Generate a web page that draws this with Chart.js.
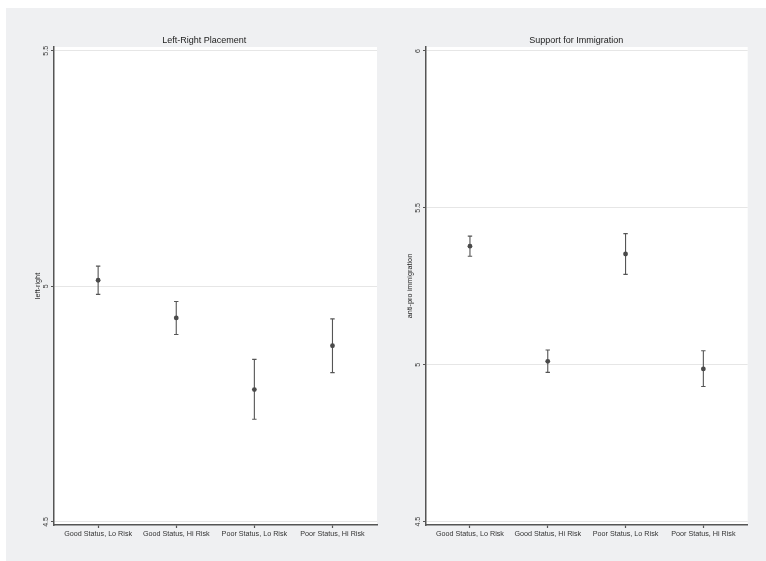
<!DOCTYPE html>
<html>
<head>
<meta charset="utf-8">
<script src="https://cdn.jsdelivr.net/npm/chart.js@4"></script>
<style>
  body { margin: 0; background: #fff; }
  #bg { position: absolute; left: 6px; top: 8px; width: 760px; height: 553px; background: #eff0f2; }
  canvas { position: absolute; top: 0; }
  #lr { left: 0; }
  #imm { left: 383px; }
</style>
</head>
<body>
<div id="bg"></div>
<canvas id="lr" width="383" height="561"></canvas>
<canvas id="imm" width="383" height="561"></canvas>
<script>
const categories = ['Good Status, Lo Risk', 'Good Status, Hi Risk', 'Poor Status, Lo Risk', 'Poor Status, Hi Risk'];

// left-right placement: mean and 95% interval
const lrMean = [5.013, 4.933, 4.781, 4.874];
const lrLow = [4.983, 4.898, 4.718, 4.817];
const lrHigh = [5.043, 4.968, 4.845, 4.931];
const lrTicks = [4.5, 5, 5.5];

// anti-pro immigration: mean and 95% interval
const immMean = [5.378, 5.011, 5.353, 4.987];
const immLow = [5.346, 4.976, 5.288, 4.931];
const immHigh = [5.410, 5.047, 5.418, 5.045];
const immTicks = [4.5, 5, 5.5, 6];

const xTicks = [1, 2, 3, 4];

const FONT = "'Liberation Sans', Arial, sans-serif";
const AXIS = '#555';

// white plot region
const plotBg = {
    id: 'plotBg',
    beforeDraw(chart) {
        const a = chart.chartArea;
        const ctx = chart.ctx;
        ctx.save();
        ctx.fillStyle = '#fff';
        ctx.fillRect(a.left, a.top, a.right - a.left, a.bottom - a.top);
        ctx.restore();
    }
};

// capped error bars from low/high arrays
const errorBars = {
    id: 'errorBars',
    beforeDatasetsDraw(chart, args, opts) {
        const ctx = chart.ctx;
        const xs = chart.scales.x, ys = chart.scales.y;
        ctx.save();
        ctx.strokeStyle = '#555';
        ctx.lineWidth = 1.1;
        for (let i = 0; i < opts.low.length; i++) {
            const x = xs.getPixelForValue(i + 1);
            const y1 = ys.getPixelForValue(opts.low[i]);
            const y2 = ys.getPixelForValue(opts.high[i]);
            ctx.beginPath();
            ctx.moveTo(x, y1); ctx.lineTo(x, y2);
            ctx.moveTo(x - 2.2, y1); ctx.lineTo(x + 2.2, y1);
            ctx.moveTo(x - 2.2, y2); ctx.lineTo(x + 2.2, y2);
            ctx.stroke();
        }
        ctx.restore();
    }
};

function panel(id, title, yTitle, mean, low, high, ticks, yMin, yMax, pad, yWidth, titlePad) {
    const data = {
        datasets: [{
            data: mean.map((v, i) => ({ x: xTicks[i], y: v })),
            pointRadius: 2.4,
            pointBackgroundColor: '#4a4a4a',
            pointBorderWidth: 0,
        }],
    };
    const config = {
        type: 'scatter',
        data: data,
        plugins: [plotBg, errorBars],
        options: {
            responsive: false,
            animation: false,
            layout: { padding: { left: pad.left, right: pad.right, top: 0, bottom: 0 } },
            plugins: {
                legend: { display: false },
                tooltip: { enabled: false },
                title: {
                    display: true,
                    text: title,
                    color: '#222',
                    font: { family: FONT, size: 9, weight: 'normal' },
                    padding: { top: 35.6, bottom: 0.6 },
                },
                errorBars: { low: low, high: high },
            },
            scales: {
                x: {
                    type: 'linear',
                    min: 0.435,
                    max: 4.57,
                    afterBuildTicks: s => { s.ticks = xTicks.map(v => ({ value: v })); },
                    afterFit: s => { s.height = 36; },
                    grid: { drawOnChartArea: false, tickLength: 3, tickColor: AXIS, tickWidth: 1.2 },
                    border: { color: AXIS, width: 1.5 },
                    ticks: {
                        color: '#333',
                        padding: 2,
                        maxRotation: 0,
                        font: { family: FONT, size: 7.2 },
                        callback: v => categories[v - 1],
                    },
                },
                y: {
                    min: yMin,
                    max: yMax,
                    afterBuildTicks: s => { s.ticks = ticks.map(v => ({ value: v })); },
                    afterFit: s => { s.width = yWidth; },
                    grid: { color: '#e6e6e6', lineWidth: 1, tickLength: 3, tickColor: AXIS, tickWidth: 1.2 },
                    border: { color: AXIS, width: 1.5 },
                    title: {
                        display: true,
                        text: yTitle,
                        color: '#222',
                        font: { family: FONT, size: 7.3 },
                        padding: { top: titlePad, bottom: 0 },
                    },
                    ticks: {
                        color: '#333',
                        padding: 0,
                        minRotation: 90,
                        maxRotation: 90,
                        crossAlign: 'center',
                        font: { family: FONT, size: 7 },
                        callback: v => String(v),
                    },
                },
            },
        },
    };
    const ctx = document.getElementById(id).getContext('2d');
    new Chart(ctx, config);
}

panel('lr', 'Left-Right Placement', 'left-right', lrMean, lrLow, lrHigh, lrTicks,
    4.4936, 5.508, { left: 31.6, right: 6 }, 22.4, 2);
panel('imm', 'Support for Immigration', 'anti-pro immigration', immMean, immLow, immHigh, immTicks,
    4.4895, 6.0127, { left: 21.9, right: 18.3 }, 21.1, 1.2);
</script>
</body>
</html>
